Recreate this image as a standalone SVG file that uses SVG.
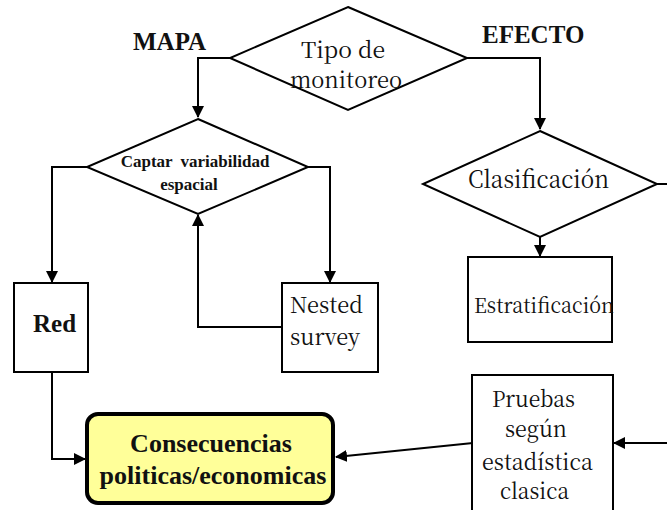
<svg xmlns="http://www.w3.org/2000/svg" width="667" height="510" viewBox="0 0 667 510">
<defs>
<marker id="ah" markerWidth="12" markerHeight="12" refX="11" refY="6" orient="auto" markerUnits="userSpaceOnUse">
<path d="M0,0 L12,6 L0,12 Z" fill="#000"/>
</marker>
<style>
.shape{fill:#fff;stroke:#000;stroke-width:2}
.conn{fill:none;stroke:#000;stroke-width:2}
text{fill:#111}
.b{font-family:'Liberation Serif','DejaVu Serif',serif;font-weight:bold}
.r{font-family:'Noto Serif CJK SC','Noto Serif CJK JP','DejaVu Serif',serif;font-size:22px}
</style>
</defs>
<rect width="667" height="510" fill="#fff"/>
<g id="connectors">
<path class="conn" d="M230,58 H198 V117" marker-end="url(#ah)"/>
<path class="conn" d="M467,58 H540 V129" marker-end="url(#ah)"/>
<path class="conn" d="M87,167 H52 V282" marker-end="url(#ah)"/>
<path class="conn" d="M308,167 H330 V282" marker-end="url(#ah)"/>
<path class="conn" d="M282,327 H198 V215" marker-end="url(#ah)"/>
<path class="conn" d="M540,237 V256" marker-end="url(#ah)"/>
<path class="conn" d="M657,184 H667"/>
<path class="conn" d="M52,372 V459 H85" marker-end="url(#ah)"/>
<path class="conn" d="M473,443 L336,457" marker-end="url(#ah)"/>
<path class="conn" d="M667,443 H614" marker-end="url(#ah)"/>
</g>
<g id="label-mapa"><text class="b" x="133" y="50" font-size="25">MAPA</text></g>
<g id="label-efecto"><text class="b" x="482" y="43" font-size="25">EFECTO</text></g>
<g id="tipo">
<polygon class="shape" points="348,7 467,58 348,110 230,58"/>
<text class="r" x="301" y="58" textLength="84" lengthAdjust="spacingAndGlyphs">Tipo de</text>
<text class="r" x="290" y="88" textLength="112" lengthAdjust="spacingAndGlyphs">monitoreo</text>
</g>
<g id="captar">
<polygon class="shape" points="198,119 308,167 198,214 87,167"/>
<text class="b" x="195" y="167" font-size="17" text-anchor="middle" word-spacing="4">Captar variabilidad</text>
<text class="b" x="189" y="190" font-size="17" text-anchor="middle">espacial</text>
</g>
<g id="clasificacion">
<polygon class="shape" points="540,131 657,184 540,237 423,184"/>
<text class="r" x="468" y="188" style="font-size:24px" textLength="141" lengthAdjust="spacingAndGlyphs">Clasificación</text>
</g>
<g id="estratificacion">
<rect class="shape" x="468" y="257" width="144" height="85"/>
<text class="r" x="474" y="313" style="font-size:21px" textLength="140" lengthAdjust="spacingAndGlyphs">Estratificación</text>
</g>
<g id="red">
<rect class="shape" x="14" y="283" width="74" height="89"/>
<text class="b" x="33" y="332" font-size="25">Red</text>
</g>
<g id="nested">
<rect class="shape" x="282" y="283" width="96" height="89"/>
<text class="r" x="290" y="313" textLength="73" lengthAdjust="spacingAndGlyphs">Nested</text>
<text class="r" x="290" y="345" textLength="70" lengthAdjust="spacingAndGlyphs">survey</text>
</g>
<g id="pruebas">
<rect class="shape" x="472" y="375" width="141" height="145"/>
<text class="r" x="492" y="407" textLength="83" lengthAdjust="spacingAndGlyphs">Pruebas</text>
<text class="r" x="505" y="437" textLength="62" lengthAdjust="spacingAndGlyphs">según</text>
<text class="r" x="482" y="470" textLength="111" lengthAdjust="spacingAndGlyphs">estadística</text>
<text class="r" x="500" y="499" textLength="69" lengthAdjust="spacingAndGlyphs">clasica</text>
</g>
<g id="consecuencias">
<rect x="87" y="414" width="246" height="89" rx="11" fill="#ffff99" stroke="#000" stroke-width="4"/>
<text class="b" x="211" y="452" font-size="26" text-anchor="middle">Consecuencias</text>
<text class="b" x="213" y="484" font-size="26" text-anchor="middle">politicas/economicas</text>
</g>
</svg>
